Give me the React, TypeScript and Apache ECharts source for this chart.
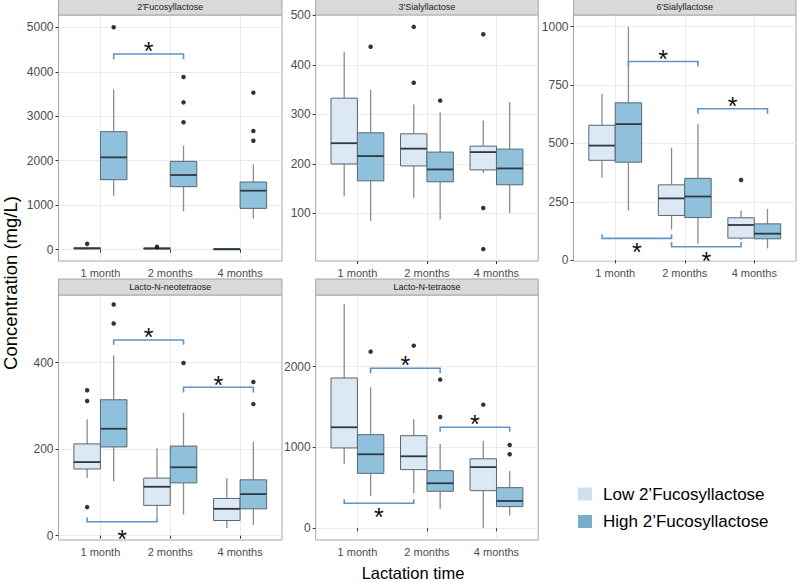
import React, { useEffect, useRef } from "react";
import * as echarts from "echarts";

// ---------------- data ----------------
const categories = ["1 month", "2 months", "4 months"];
const groupNames = ["Low 2’Fucosyllactose", "High 2’Fucosyllactose"];
const panelTitles = [
  "2'Fucosyllactose",
  "3'Sialyllactose",
  "6'Sialyllactose",
  "Lacto-N-neotetraose",
  "Lacto-N-tetraose",
];

// box statistics per lactation time: [min, Q1, median, Q3, max]
const fl2Low = [[5, 20, 30, 42, 70], [5, 18, 28, 38, 50], [0, 8, 14, 20, 30]];
const fl2High = [[1214, 1574, 2076, 2654, 3606], [862, 1417, 1679, 1986, 2339], [697, 929, 1327, 1522, 1919]];
const fl2LowOut = [[135], [65], []];
const fl2HighOut = [[5000], [3883, 3313, 2864], [3531, 2669, 2451]];

const sl3Low = [[135, 200, 242, 333, 426], [132, 196, 231, 261, 320], [182, 188, 224, 236, 288]];
const sl3High = [[85, 166, 216, 263, 350], [88, 164, 189, 224, 304], [101, 158, 191, 230, 325]];
const sl3LowOut = [[], [477, 364], [462, 111, 28]];
const sl3HighOut = [[437], [328], []];

const sl6Low = [[353, 428, 491, 578, 713], [131, 192, 265, 323, 482], [87, 95, 151, 182, 213]];
const sl6High = [[213, 420, 583, 674, 1000], [71, 183, 273, 351, 583], [51, 92, 114, 156, 220]];
const sl6LowOut = [[], [], [344]];
const sl6HighOut = [[], [], []];

const lnntLow = [[133, 154, 170, 212, 269], [42, 70, 113, 133, 202], [18, 35, 62, 86, 133]];
const lnntHigh = [[126, 205, 247, 314, 417], [49, 122, 158, 207, 284], [25, 62, 96, 129, 217]];
const lnntLowOut = [[336, 311, 66], [], []];
const lnntHighOut = [[534, 490], [399], [355, 304]];

const lntLow = [[796, 994, 1250, 1860, 2771], [429, 726, 891, 1146, 1349], [8, 466, 757, 860, 1083]];
const lntHigh = [[400, 680, 916, 1159, 1744], [239, 458, 557, 713, 1043], [157, 268, 338, 503, 705]];
const lntLowOut = [[], [2260], [1530]];
const lntHighOut = [[2186], [1840, 1378], [1031, 916]];

// significance brackets: [fromCat, fromGroup, toCat, toGroup, lineValue, tipValue, starValue]
const fl2Brackets = [[1, 1, 2, 1, 4400, 4280, 4600]];
const sl3Brackets: number[][] = [];
const sl6Brackets = [
  [1, 1, 2, 1, 851, 830, 886],
  [2, 1, 3, 1, 649, 627, 684],
  [1, 0, 2, 0, 94, 112, 58],
  [2, 0, 3, 0, 58, 78, 21],
];
const lnntBrackets = [
  [1, 1, 2, 1, 452, 441, 472],
  [2, 1, 3, 1, 343, 331, 361],
  [1, 0, 2, 0, 32, 42, 5],
];
const lntBrackets = [
  [1, 1, 2, 1, 1980, 1918, 2091],
  [2, 1, 3, 1, 1250, 1196, 1361],
  [1, 0, 2, 0, 309, 359, 206],
];

// y-axis tick labels and limits
const fl2Ticks = [0, 1000, 2000, 3000, 4000, 5000];
const sl3Ticks = [100, 200, 300, 400, 500];
const sl6Ticks = [0, 250, 500, 750, 1000];
const lnntTicks = [0, 200, 400];
const lntTicks = [0, 1000, 2000];
const fl2Range = [-254, 5277];
const sl3Range = [4, 501];
const sl6Range = [-3, 1050];
const lnntRange = [-10, 556];
const lntRange = [-145, 2887];

const panelData = [
  { low: fl2Low, high: fl2High, lowOut: fl2LowOut, highOut: fl2HighOut, brackets: fl2Brackets, ticks: fl2Ticks, range: fl2Range },
  { low: sl3Low, high: sl3High, lowOut: sl3LowOut, highOut: sl3HighOut, brackets: sl3Brackets, ticks: sl3Ticks, range: sl3Range },
  { low: sl6Low, high: sl6High, lowOut: sl6LowOut, highOut: sl6HighOut, brackets: sl6Brackets, ticks: sl6Ticks, range: sl6Range },
  { low: lnntLow, high: lnntHigh, lowOut: lnntLowOut, highOut: lnntHighOut, brackets: lnntBrackets, ticks: lnntTicks, range: lnntRange },
  { low: lntLow, high: lntHigh, lowOut: lntLowOut, highOut: lntHighOut, brackets: lntBrackets, ticks: lntTicks, range: lntRange },
];

// ---------------- layout & style ----------------
const W = 797;
const H = 582;
const FONT = "'Liberation Sans', Arial, Helvetica, sans-serif";
const LOW_FILL = "#dce8f4";
const HIGH_FILL = "#8fc1dc";
const BOX_BORDER = "#5a6770";
const WHISKER = "#8c8c8c";
const MEDIAN = "#2b3a44";
const BRACKET = "#5f93cc";
const GRID_LINE = "#ebebeb";
const PANEL_BORDER = "#a6a6a6";
const STRIP_FILL = "#d9d9d9";
const DODGE = 0.19;
const BOX_W = 0.38;
const STAR_SIZE = 25;
const STRIP_H = 16;

const layout = [
  { left: 58.5, top: 15, width: 223.5, height: 246 },
  { left: 315.7, top: 15, width: 222.5, height: 246 },
  { left: 573.5, top: 15, width: 222.5, height: 246 },
  { left: 58.5, top: 295, width: 223.5, height: 245 },
  { left: 315.7, top: 295, width: 222.5, height: 245 },
];

function boxRenderer(fill: string) {
  return (params: any, api: any) => {
    const x = api.value(0);
    const mn = api.value(1);
    const q1 = api.value(2);
    const md = api.value(3);
    const q3 = api.value(4);
    const mx = api.value(5);
    const half = BOX_W / 2;
    const tl = api.coord([x - half, q3]);
    const br = api.coord([x + half, q1]);
    const cTop = api.coord([x, mx]);
    const cQ3 = api.coord([x, q3]);
    const cQ1 = api.coord([x, q1]);
    const cBot = api.coord([x, mn]);
    const mL = api.coord([x - half, md]);
    const mR = api.coord([x + half, md]);
    return {
      type: "group",
      children: [
        { type: "line", shape: { x1: cTop[0], y1: cTop[1], x2: cQ3[0], y2: cQ3[1] }, style: { stroke: WHISKER, lineWidth: 1.3 } },
        { type: "line", shape: { x1: cQ1[0], y1: cQ1[1], x2: cBot[0], y2: cBot[1] }, style: { stroke: WHISKER, lineWidth: 1.3 } },
        {
          type: "rect",
          shape: { x: tl[0], y: tl[1], width: br[0] - tl[0], height: Math.max(br[1] - tl[1], 1) },
          style: { fill, stroke: BOX_BORDER, lineWidth: 1 },
        },
        { type: "line", shape: { x1: mL[0], y1: mL[1], x2: mR[0], y2: mR[1] }, style: { stroke: MEDIAN, lineWidth: 1.8 } },
      ],
    };
  };
}

function bracketRenderer(params: any, api: any) {
  const x1 = api.value(0);
  const x2 = api.value(1);
  const yl = api.value(2);
  const yt = api.value(3);
  const ys = api.value(4);
  const a = api.coord([x1, yt]);
  const b = api.coord([x1, yl]);
  const c = api.coord([x2, yl]);
  const d = api.coord([x2, yt]);
  const s = api.coord([(x1 + x2) / 2, ys]);
  return {
    type: "group",
    children: [
      { type: "polyline", shape: { points: [a, b, c, d] }, style: { stroke: BRACKET, fill: "none", lineWidth: 1.6 } },
      {
        type: "text",
        x: s[0],
        y: s[1] + STAR_SIZE * 0.23,
        style: { text: "*", fontSize: STAR_SIZE, fontFamily: FONT, fill: "#111", align: "center", verticalAlign: "middle" },
      },
    ],
  };
}

function buildOption() {
  const grid: any[] = [];
  const xAxis: any[] = [];
  const yAxis: any[] = [];
  const series: any[] = [];
  const graphic: any[] = [];

  panelData.forEach((p, i) => {
    const L = layout[i];
    grid.push({
      left: L.left,
      top: L.top,
      width: L.width,
      height: L.height,
      show: true,
      backgroundColor: "#ffffff",
      borderColor: PANEL_BORDER,
      borderWidth: 1,
    });
    xAxis.push({
      type: "value",
      gridIndex: i,
      min: 0.4,
      max: 3.6,
      axisLine: { show: false },
      axisTick: { show: true, length: 3, customValues: [1, 2, 3], lineStyle: { color: "#333" } },
      axisLabel: {
        customValues: [1, 2, 3],
        formatter: (v: number) => categories[Math.round(v) - 1] || "",
        color: "#4d4d4d",
        fontSize: 11,
        fontFamily: FONT,
        margin: 6,
      },
      splitLine: { show: true, lineStyle: { color: GRID_LINE, width: 1 } },
    });
    yAxis.push({
      type: "value",
      gridIndex: i,
      min: p.range[0],
      max: p.range[1],
      axisLine: { show: false },
      axisTick: { show: true, length: 3, customValues: p.ticks, lineStyle: { color: "#333" } },
      axisLabel: {
        customValues: p.ticks,
        formatter: (v: number) => String(v),
        color: "#4d4d4d",
        fontSize: 12,
        fontFamily: FONT,
        margin: 5,
      },
      splitLine: { show: true, lineStyle: { color: GRID_LINE, width: 1 } },
    });

    const lowData = p.low.map((s, c) => [c + 1 - DODGE, ...s]);
    const highData = p.high.map((s, c) => [c + 1 + DODGE, ...s]);
    series.push({
      type: "custom",
      name: groupNames[0],
      xAxisIndex: i,
      yAxisIndex: i,
      renderItem: boxRenderer(LOW_FILL),
      encode: { x: 0, y: [1, 2, 3, 4, 5] },
      data: lowData,
      z: 3,
    });
    series.push({
      type: "custom",
      name: groupNames[1],
      xAxisIndex: i,
      yAxisIndex: i,
      renderItem: boxRenderer(HIGH_FILL),
      encode: { x: 0, y: [1, 2, 3, 4, 5] },
      data: highData,
      z: 3,
    });
    const outliers: number[][] = [];
    p.lowOut.forEach((arr, c) => arr.forEach((v) => outliers.push([c + 1 - DODGE, v])));
    p.highOut.forEach((arr, c) => arr.forEach((v) => outliers.push([c + 1 + DODGE, v])));
    series.push({
      type: "scatter",
      xAxisIndex: i,
      yAxisIndex: i,
      symbol: "circle",
      symbolSize: 4.5,
      itemStyle: { color: "#000" },
      data: outliers,
      z: 4,
    });
    if (p.brackets.length) {
      series.push({
        type: "custom",
        xAxisIndex: i,
        yAxisIndex: i,
        renderItem: bracketRenderer,
        encode: { x: [0, 1], y: [2, 3, 4] },
        data: p.brackets.map((b) => [
          b[0] + (b[1] ? DODGE : -DODGE),
          b[2] + (b[3] ? DODGE : -DODGE),
          b[4],
          b[5],
          b[6],
        ]),
        z: 5,
      });
    }

    // facet strip
    graphic.push({
      type: "rect",
      shape: { x: L.left, y: L.top - STRIP_H, width: L.width, height: STRIP_H },
      style: { fill: STRIP_FILL, stroke: PANEL_BORDER, lineWidth: 1 },
      z: 10,
    });
    graphic.push({
      type: "text",
      x: L.left + L.width / 2,
      y: L.top - STRIP_H / 2,
      style: {
        text: panelTitles[i],
        fontSize: 9,
        fontFamily: FONT,
        fill: "#1a1a1a",
        align: "center",
        verticalAlign: "middle",
      },
      z: 11,
    });
  });

  // axis titles
  graphic.push({
    type: "text",
    x: 10,
    y: 283,
    rotation: Math.PI / 2,
    style: {
      text: "Concentration (mg/L)",
      fontSize: 18.5,
      fontFamily: FONT,
      fill: "#000",
      align: "center",
      verticalAlign: "middle",
    },
  });
  graphic.push({
    type: "text",
    x: 413,
    y: 573,
    style: {
      text: "Lactation time",
      fontSize: 16.5,
      fontFamily: FONT,
      fill: "#000",
      align: "center",
      verticalAlign: "middle",
    },
  });

  // legend
  groupNames.forEach((name, k) => {
    const cy = 494 + k * 27.5;
    graphic.push({
      type: "rect",
      shape: { x: 578, y: cy - 6.5, width: 14, height: 13 },
      style: { fill: k === 0 ? "#cfe0ee" : "#79aecb" },
    });
    graphic.push({
      type: "text",
      x: 603,
      y: cy,
      style: {
        text: name,
        fontSize: 17,
        fontFamily: FONT,
        fill: "#000",
        align: "left",
        verticalAlign: "middle",
      },
    });
  });

  return {
    animation: false,
    backgroundColor: "#ffffff",
    grid,
    xAxis,
    yAxis,
    series,
    graphic,
  };
}

export default function App() {
  const ref = useRef<HTMLDivElement>(null);
  useEffect(() => {
    if (!ref.current) return;
    const chart = echarts.init(ref.current, undefined, { renderer: "svg", width: W, height: H });
    chart.setOption(buildOption() as any);
    return () => chart.dispose();
  }, []);
  return <div ref={ref} style={{ position: "fixed", left: 0, top: 0, width: W, height: H }} />;
}
